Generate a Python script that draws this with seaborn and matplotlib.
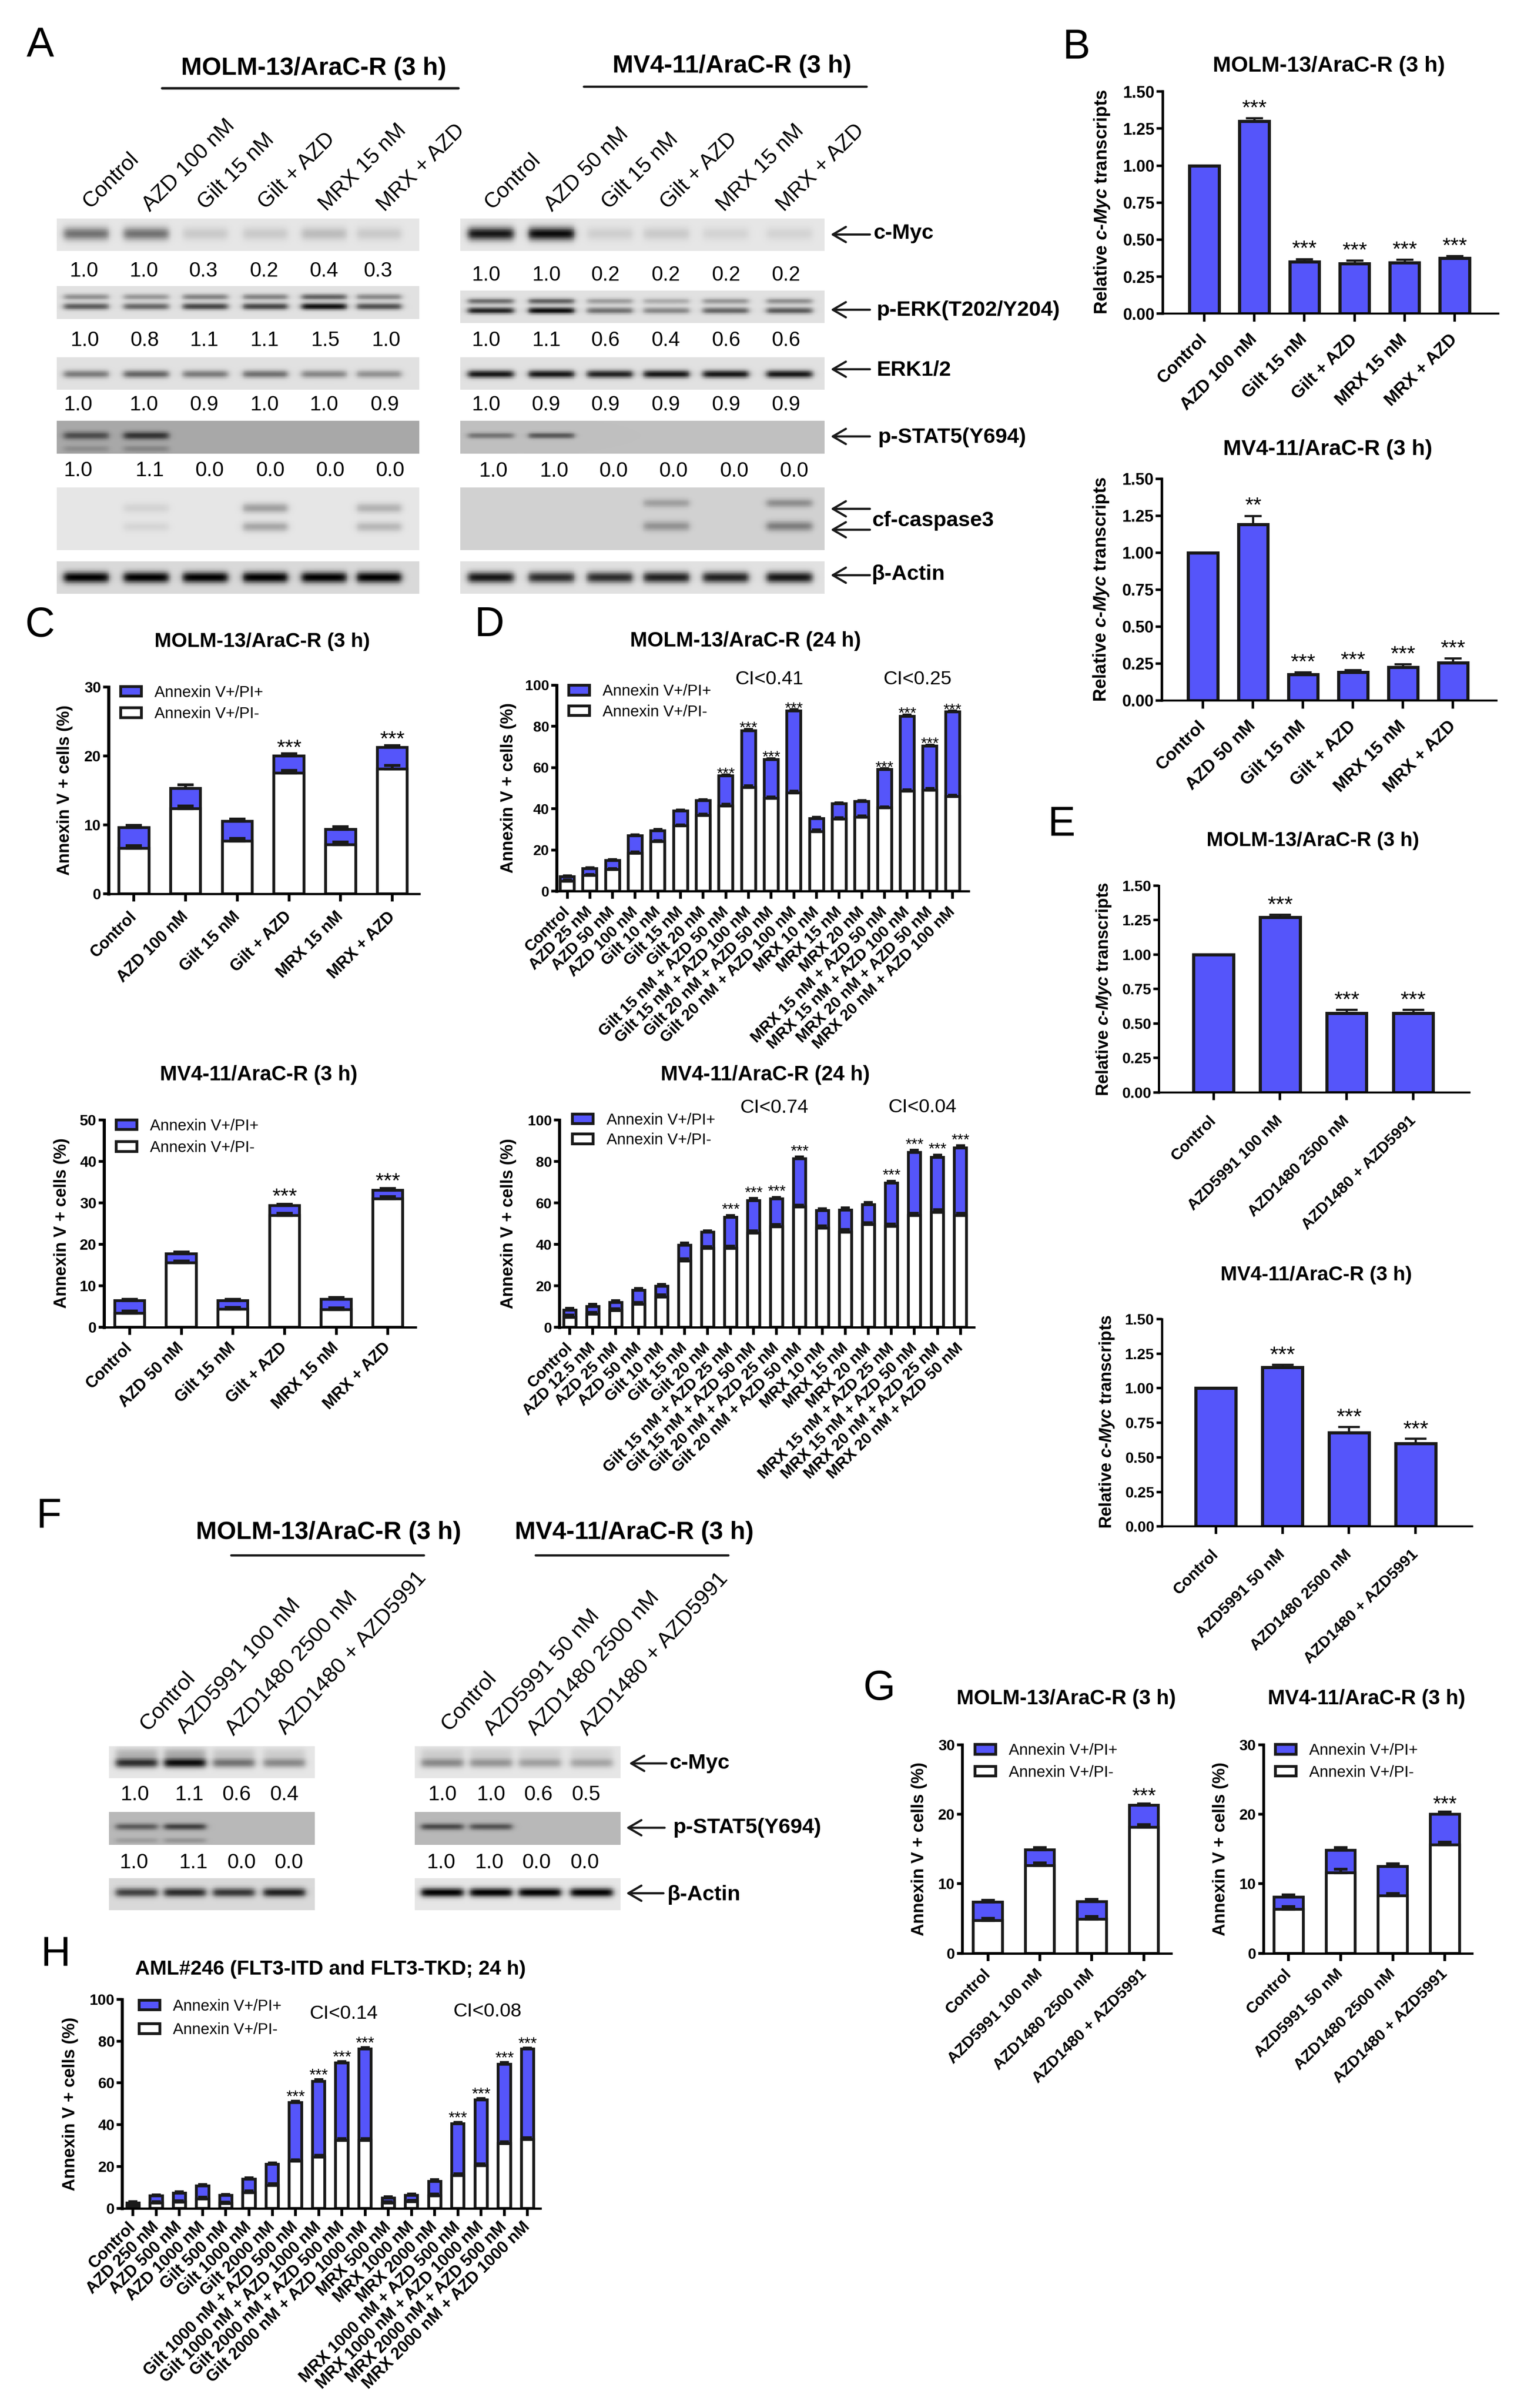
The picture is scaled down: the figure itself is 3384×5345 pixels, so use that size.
import numpy as np
import pandas as pd
import seaborn as sns
import matplotlib
matplotlib.use('Agg')
import matplotlib.pyplot as plt
from matplotlib.patches import Patch

# ---------------------------------------------------------------- data
COND_M13 = ['Control', 'AZD 100 nM', 'Gilt 15 nM', 'Gilt + AZD', 'MRX 15 nM', 'MRX + AZD']
COND_MV4 = ['Control', 'AZD 50 nM', 'Gilt 15 nM', 'Gilt + AZD', 'MRX 15 nM', 'MRX + AZD']
B1_VAL = [1.0, 1.30, 0.35, 0.34, 0.345, 0.375]
B1_ERR = [0, 0.02, 0.02, 0.02, 0.02, 0.015]
B1_STARS = ['', '***', '***', '***', '***', '***']
B2_VAL = [1.0, 1.19, 0.175, 0.19, 0.225, 0.255]
B2_ERR = [0, 0.06, 0.015, 0.015, 0.02, 0.03]
B2_STARS = ['', '**', '***', '***', '***', '***']

C1_TOTAL = [9.6, 15.3, 10.5, 20.0, 9.3, 21.2]
C1_LOWER = [6.6, 12.3, 7.6, 17.5, 7.1, 18.1]
C1_ERR_T = [0.3, 0.5, 0.3, 0.3, 0.4, 0.3]
C1_ERR_L = [0.4, 0.4, 0.4, 0.4, 0.4, 0.5]
C1_STARS = ['', '', '', '***', '', '***']
C2_TOTAL = [6.4, 17.7, 6.4, 29.3, 6.7, 33.0]
C2_LOWER = [3.4, 15.5, 4.3, 27.0, 4.2, 31.0]
C2_ERR_T = [0.3, 0.4, 0.3, 0.4, 0.5, 0.5]
C2_ERR_L = [0.5, 0.5, 0.5, 0.5, 0.5, 0.5]
C2_STARS = ['', '', '', '***', '', '***']

D1_COND = ['Control', 'AZD 25 nM', 'AZD 50 nM', 'AZD 100 nM', 'Gilt 10 nM', 'Gilt 15 nM', 'Gilt 20 nM',
           'Gilt 15 nM + AZD 50 nM', 'Gilt 15 nM + AZD 100 nM', 'Gilt 20 nM + AZD 50 nM', 'Gilt 20 nM + AZD 100 nM',
           'MRX 10 nM', 'MRX 15 nM', 'MRX 20 nM',
           'MRX 15 nM + AZD 50 nM', 'MRX 15 nM + AZD 100 nM', 'MRX 20 nM + AZD 50 nM', 'MRX 20 nM + AZD 100 nM']
D1_TOTAL = [7, 10.9, 15, 27, 29.3, 39, 44, 56, 78, 64, 87.5, 35.3, 42.4, 43.5, 59, 85, 70.4, 87]
D1_LOWER = [4.9, 7.7, 10.5, 18.5, 24, 31.7, 36.7, 41.4, 50.4, 45, 47.8, 29, 35, 36, 40.4, 48.5, 49, 46]
D1_ERR_T = [0.4, 0.5, 0.4, 0.4, 0.6, 0.5, 0.5, 0.4, 0.6, 0.4, 0.6, 0.5, 0.4, 0.4, 0.5, 0.6, 0.6, 0.5]
D1_ERR_L = [0.5, 0.5, 0.5, 0.5, 0.6, 0.5, 0.8, 0.8, 0.8, 0.8, 0.8, 0.8, 0.6, 0.6, 0.6, 0.8, 0.8, 0.6]
D2_COND = ['Control', 'AZD 12.5 nM', 'AZD 25 nM', 'AZD 50 nM', 'Gilt 10 nM', 'Gilt 15 nM', 'Gilt 20 nM',
           'Gilt 15 nM + AZD 25 nM', 'Gilt 15 nM + AZD 50 nM', 'Gilt 20 nM + AZD 25 nM', 'Gilt 20 nM + AZD 50 nM',
           'MRX 10 nM', 'MRX 15 nM', 'MRX 20 nM',
           'MRX 15 nM + AZD 25 nM', 'MRX 15 nM + AZD 50 nM', 'MRX 20 nM + AZD 25 nM', 'MRX 20 nM + AZD 50 nM']
D2_TOTAL = [8.3, 10.1, 11.9, 17.8, 19.7, 39.7, 45.8, 53, 61.2, 61.9, 81.3, 56.3, 56.6, 59.2, 69.5, 84.3, 82, 86.5]
D2_LOWER = [4.9, 6.3, 8, 11, 14.5, 32, 38, 38, 45.5, 48.5, 58, 47.9, 46, 49.5, 48.7, 54, 55.5, 54]
D2_ERR_T = [0.9, 0.9, 0.9, 1.0, 1.0, 1.0, 0.8, 1.0, 1.0, 0.8, 0.9, 1.0, 1.0, 1.0, 1.0, 1.1, 1.2, 1.1]
D2_ERR_L = [1.0, 1.0, 1.0, 1.0, 1.2, 1.0, 1.0, 1.2, 1.0, 1.2, 1.0, 1.0, 1.2, 1.0, 1.1, 1.0, 1.2, 1.0]
COMBO_STARS = ['', '', '', '', '', '', '', '***', '***', '***', '***', '', '', '', '***', '***', '***', '***']

E1_COND = ['Control', 'AZD5991 100 nM', 'AZD1480 2500 nM', 'AZD1480 + AZD5991']
E2_COND = ['Control', 'AZD5991 50 nM', 'AZD1480 2500 nM', 'AZD1480 + AZD5991']
E1_VAL = [1.0, 1.27, 0.575, 0.575]
E1_ERR = [0, 0.02, 0.025, 0.025]
E2_VAL = [1.0, 1.15, 0.68, 0.60]
E2_ERR = [0, 0.02, 0.04, 0.035]
E_STARS = ['', '***', '***', '***']

G1_TOTAL = [7.35, 14.9, 7.4, 21.3]
G1_LOWER = [4.7, 12.6, 4.9, 18.1]
G1_ERR_T = [0.25, 0.3, 0.35, 0.2]
G1_ERR_L = [0.3, 0.4, 0.4, 0.4]
G2_TOTAL = [8.1, 14.8, 12.5, 20.0]
G2_LOWER = [6.3, 11.6, 8.3, 15.6]
G2_ERR_T = [0.3, 0.4, 0.4, 0.3]
G2_ERR_L = [0.4, 0.5, 0.3, 0.4]
G_STARS = ['', '', '', '***']

H_COND = ['Control', 'AZD 250 nM', 'AZD 500 nM', 'AZD 1000 nM', 'Gilt 500 nM', 'Gilt 1000 nM', 'Gilt 2000 nM',
          'Gilt 1000 nM + AZD 500 nM', 'Gilt 1000 nM + AZD 1000 nM', 'Gilt 2000 nM + AZD 500 nM', 'Gilt 2000 nM + AZD 1000 nM',
          'MRX 500 nM', 'MRX 1000 nM', 'MRX 2000 nM',
          'MRX 1000 nM + AZD 500 nM', 'MRX 1000 nM + AZD 1000 nM', 'MRX 2000 nM + AZD 500 nM', 'MRX 2000 nM + AZD 1000 nM']
H_TOTAL = [2.6, 5.9, 7.3, 10.8, 6.2, 14, 21.1, 50.7, 60.8, 69.7, 76.3, 5, 6.2, 13, 40.4, 52, 69, 76.2]
H_LOWER = [1.2, 2.5, 3, 4.5, 2.3, 7.5, 11, 22.5, 24.5, 32.5, 32.5, 2.5, 3.1, 6, 15.7, 20.5, 31, 33]
H_ERR_T = [0.5, 0.6, 0.6, 0.6, 0.5, 0.6, 0.6, 0.6, 0.8, 0.5, 0.6, 0.5, 0.6, 0.7, 0.7, 0.5, 0.8, 0.6]
H_ERR_L = [0.6, 0.7, 0.7, 0.8, 0.6, 0.8, 0.8, 0.8, 0.8, 0.9, 0.8, 0.6, 0.7, 0.8, 0.8, 0.8, 0.8, 0.9]

# western-blot lane darkness (0 = no band, 1 = black) and densitometry labels
A_L_MYC, A_R_MYC = [.5, .5, .12, .12, .18, .12], [.9, .95, .1, .12, .08, .08]
A_L_PERK, A_R_PERK = [.6, .55, .7, .7, .95, .65], [.85, .95, .5, .4, .55, .6]
A_L_ERK, A_R_ERK = [.45, .55, .45, .5, .4, .35], [.9, .9, .85, .9, .9, .9]
A_L_STAT, A_R_STAT = [.55, .7, 0, 0, 0, 0], [.4, .55, 0, 0, 0, 0]
A_L_CASP, A_R_CASP = [0, .08, 0, .3, 0, .22], [0, 0, 0, .3, 0, .4]
A_L_ACT, A_R_ACT = [1, 1, 1, 1, 1, 1], [.9, .8, .8, .85, .85, .9]
F_L_MYC, F_R_MYC = [.8, .95, .5, .4], [.4, .35, .3, .28]
F_L_STAT, F_R_STAT = [.5, .65, 0, 0], [.6, .55, 0, 0]
F_L_ACT, F_R_ACT = [.7, .8, .75, .85], [1, 1, 1, 1]
A_L_NUM = [['1.0', '1.0', '0.3', '0.2', '0.4', '0.3'], ['1.0', '0.8', '1.1', '1.1', '1.5', '1.0'],
           ['1.0', '1.0', '0.9', '1.0', '1.0', '0.9'], ['1.0', '1.1', '0.0', '0.0', '0.0', '0.0']]
A_R_NUM = [['1.0', '1.0', '0.2', '0.2', '0.2', '0.2'], ['1.0', '1.1', '0.6', '0.4', '0.6', '0.6'],
           ['1.0', '0.9', '0.9', '0.9', '0.9', '0.9'], ['1.0', '1.0', '0.0', '0.0', '0.0', '0.0']]
F_L_NUM = [['1.0', '1.1', '0.6', '0.4'], ['1.0', '1.1', '0.0', '0.0']]
F_R_NUM = [['1.0', '1.0', '0.6', '0.5'], ['1.0', '1.0', '0.0', '0.0']]

T_M13_3 = 'MOLM-13/AraC-R (3 h)'
T_MV4_3 = 'MV4-11/AraC-R (3 h)'
LEG = ['Annexin V+/PI+', 'Annexin V+/PI-']
Y_AX = 'Annexin V + cells (%)'

# ---------------------------------------------------------------- style
W, H = 3384, 5345
BLUE = '#5555FA'
SANS = 'Liberation Sans'
sns.set_theme(style='ticks', rc={'axes.edgecolor': 'black', 'xtick.color': 'black', 'ytick.color': 'black',
                                 'text.color': 'black', 'axes.labelcolor': 'black'})
plt.rcParams['font.family'] = [SANS, 'DejaVu Sans']
plt.rcParams['mathtext.fontset'] = 'custom'
plt.rcParams['mathtext.bfit'] = SANS + ':italic:bold'
MYC_LABEL = r'Relative $\mathbfit{c}$-$\mathbfit{Myc}$ transcripts'

fig = plt.figure(figsize=(W / 100, H / 100), dpi=100, facecolor='white')


class Map:

    def __init__(self, ox, oy, w, h, side=1568):
        self.ox, self.oy, self.fx, self.fy = ox, oy, side / w, side / h

    def x(self, v):
        return self.ox + v / self.fx

    def y(self, v):
        return self.oy + v / self.fy

    def xy(self, p):
        return (self.x(p[0]), self.y(p[1]))

    def rect(self, a, b, c, d):
        return (self.x(a), self.y(b), self.x(c), self.y(d))


Z1 = Map(0, 0, 2400, 1400)
Z2 = Map(1000, 1350, 1300, 1000)
Z3 = Map(1000, 2330, 1300, 1000)
Z4 = Map(100, 4300, 1250, 1045)
Z5 = Map(0, 3300, 2000, 1000)
Z6 = Map(2300, 0, 1084, 1750)
Z7 = Map(2300, 1750, 1084, 1900)
Z8 = Map(0, 1330, 1050, 1000)
Z9 = Map(0, 2330, 1050, 900)
Z10 = Map(1880, 3680, 1504, 1000)


def add_ax(x0, y0, x1, y1, **kw):
    return fig.add_axes([x0 / W, 1 - y1 / H, (x1 - x0) / W, (y1 - y0) / H], **kw)


ov = add_ax(0, 0, W, H, zorder=20)
ov.set_xlim(0, W)
ov.set_ylim(H, 0)
ov.axis('off')
ov.patch.set_alpha(0)


def frame(ax, rect, c0, cn, n, ymax, yticks, ytl, labels, title, title_xy, ylabel, ylabel_xy, s):
    x0, y0, x1, y1 = rect
    step = (cn - c0) / (n - 1)
    ax.set_xlim((x0 - c0) / step, n - 1 + (x1 - cn) / step)
    ax.set_ylim(0, ymax)
    sns.despine(ax=ax)
    ax.spines['left'].set_linewidth(s['sp'])
    ax.spines['bottom'].set_linewidth(s['spb'])
    ax.set_yticks(yticks)
    ax.set_yticklabels(ytl, fontsize=s['yfs'], fontweight='bold')
    ax.set_xticks(range(n))
    ax.set_xticklabels(labels, rotation=45, ha='right', va='center', rotation_mode='anchor',
                       fontsize=s['xfs'], fontweight='bold')
    ax.tick_params(axis='y', length=s['tl'], width=s['tw'], pad=3)
    ax.tick_params(axis='x', length=s['tl'] + 3, width=s['tw'], pad=s['xpad'])
    ax.set_xlabel('')
    ax.set_ylabel(ylabel, fontsize=s['lfs'], fontweight='bold', va='center')
    ax.yaxis.set_label_coords((ylabel_xy[0] - x0) / (x1 - x0), (y1 - ylabel_xy[1]) / (y1 - y0))
    ax.set_title(title, fontsize=s['tfs'], fontweight='bold', va='center',
                 x=(title_xy[0] - x0) / (x1 - x0), y=(y1 - title_xy[1] - 10) / (y1 - y0))


def add_stars(ax, tops, stars, s):
    em = s['sfs'] * 100 / 72
    off = (s['so'] - .58 * em) * 72 / 100
    for i, (t, st) in enumerate(zip(tops, stars)):
        if st:
            ax.annotate(st, (i, t), xytext=(0, off), textcoords='offset points', ha='center', va='baseline',
                        fontsize=s['sfs'], annotation_clip=False)


def single(z, box, c0, cn, labels, vals, errs, stars, title, title_z, ylabel_z, s):
    rect = z.rect(*box)
    ax = add_ax(*rect)
    n = len(labels)
    df = pd.DataFrame({'cond': labels, 'value': vals})
    sns.barplot(data=df, x='cond', y='value', order=labels, color=BLUE, saturation=1, edgecolor='k',
                linewidth=s['lw'], width=s['bw'], errorbar=None, ax=ax)
    ax.errorbar(range(n), vals, yerr=[[0] * n, errs], fmt='none', ecolor='k', elinewidth=s['lw'] * .7,
                capsize=s['cap'], capthick=s['lw'] * .7, clip_on=False)
    ticks = [0, .25, .5, .75, 1, 1.25, 1.5]
    frame(ax, rect, z.x(c0), z.x(cn), n, 1.5, ticks, ['%.2f' % t for t in ticks], labels, title, z.xy(title_z),
          MYC_LABEL, z.xy(ylabel_z), s)
    add_stars(ax, [v + e for v, e in zip(vals, errs)], stars, s)


def stacked(z, box, c0, cn, labels, total, lower, et, el, stars, ymax, yticks, title, title_z, ylabel_z, leg, s):
    rect = z.rect(*box)
    ax = add_ax(*rect)
    n = len(labels)
    df = pd.DataFrame({'cond': labels, 'total': total, 'lower': lower})
    sns.barplot(data=df, x='cond', y='total', order=labels, color=BLUE, saturation=1, edgecolor='k',
                linewidth=s['lw'], width=s['bw'], errorbar=None, ax=ax)
    sns.barplot(data=df, x='cond', y='lower', order=labels, color='white', saturation=1, edgecolor='k',
                linewidth=s['lw'], width=s['bw'], errorbar=None, ax=ax)
    for v, e in ((total, et), (lower, el)):
        ax.errorbar(range(n), v, yerr=[[0] * n, e], fmt='none', ecolor='k', elinewidth=s['lw'],
                    capsize=s['cap'], capthick=s['lw'], clip_on=False, zorder=5)
    frame(ax, rect, z.x(c0), z.x(cn), n, ymax, yticks, [str(t) for t in yticks], labels, title, z.xy(title_z),
          Y_AX, z.xy(ylabel_z), s)
    add_stars(ax, [v + e for v, e in zip(total, et)], stars, s)
    handles = [Patch(facecolor=BLUE, edgecolor='k', linewidth=s['lw'], label=LEG[0]),
               Patch(facecolor='white', edgecolor='k', linewidth=s['lw'], label=LEG[1])]
    fs = 25
    F = fs * 100 / 72
    lx, ly, pitch = leg
    ax.legend(handles=handles, loc='upper left', bbox_to_anchor=(lx / W, 1 - (ly - .48 * F) / H),
              bbox_transform=fig.transFigure, frameon=False, fontsize=fs, borderpad=0, borderaxespad=0,
              handlelength=46 / F, handleheight=20 / F, handletextpad=.85, labelspacing=(pitch - .96 * F) / F)
    return ax


def blot(rect, bg, lanes, dark, bands, half=.38):
    x0, y0, x1, y1 = rect
    ax = add_ax(*rect)
    rows, cols = 60, 280
    yy, xx = np.mgrid[0:rows, 0:cols]
    yf = (yy + .5) / rows
    xp = x0 + (xx + .5) / cols * (x1 - x0)
    step = np.mean(np.diff(lanes))
    shade = np.zeros((rows, cols))
    for c, d in zip(lanes, dark):
        win = .5 * (np.tanh((xp - c + half * step) / 8) - np.tanh((xp - c - half * step) / 8))
        for (pos, rel, sig) in bands:
            shade += d * rel * win * np.exp(-((yf - pos) / sig) ** 2)
    img = bg * (1 - np.clip(shade, 0, 1))
    sns.heatmap(img, ax=ax, cmap='gray', vmin=0, vmax=1, cbar=False, xticklabels=False, yticklabels=False,
                rasterized=True)
    ax.set_xlabel('')
    ax.set_ylabel('')
    ax.tick_params(length=0)


def rotlabels(items, rot, fs):
    for (t, x, y) in items:
        ov.text(x, y, t, rotation=rot, rotation_mode='anchor', ha='left', va='center', fontsize=fs)


def arrow(xtail, xhead, y):
    ov.annotate('', xy=(xhead, y), xytext=(xtail, y),
                arrowprops=dict(arrowstyle='->,head_length=.55,head_width=.32', lw=3.5, color='k',
                                mutation_scale=38, shrinkA=0, shrinkB=0))


def sideline(t, x, y, fs=34):
    ov.text(x, y, t, ha='left', va='center', fontsize=fs, fontweight='bold')


def num_rows(rows, xs, ys, fs=33):
    for row, rx, y in zip(rows, xs, ys):
        for t, x in zip(row, rx):
            ov.text(x, y, t, ha='center', va='center', fontsize=fs)


# ---------------------------------------------------------------- panel A
A_LL = [Z1.x(v) for v in (125, 212, 298, 385, 470, 550)]
A_RL = [Z1.x(v) for v in (712, 800, 885, 967, 1053, 1145)]
ROWS_L = [(543, 624), (711, 793), (888, 969), (1046, 1128), (1212, 1367), (1395, 1476)]
ROWS_R = [(543, 624), (722, 803), (888, 969), (1046, 1128), (1212, 1367), (1395, 1476)]
BND_MYC = [(.47, 1, .2)]
BND_ERK2 = [(.33, .6, .09), (.62, 1, .1)]
BND_ERK = [(.52, 1, .12)]
BND_STAT_L = [(.45, 1, .12), (.85, .3, .1)]
BND_STAT_R = [(.45, 1, .09)]
BND_CASP_L = [(.33, 1, .08), (.63, .9, .08)]
BND_CASP_R = [(.25, .8, .07), (.62, 1, .08)]
BND_ACT = [(.5, 1, .17)]
for (x0, x1, lanes, rows, d, bgs, bnd) in (
        (82, 608, A_LL, ROWS_L, [A_L_MYC, A_L_PERK, A_L_ERK, A_L_STAT, A_L_CASP, A_L_ACT], [.9, .88, .88, .66, .9, .85],
         [BND_MYC, BND_ERK2, BND_ERK, BND_STAT_L, BND_CASP_L, BND_ACT]),
        (668, 1196, A_RL, ROWS_R, [A_R_MYC, A_R_PERK, A_R_ERK, A_R_STAT, A_R_CASP, A_R_ACT], [.9, .88, .88, .75, .82, .88],
         [BND_MYC, BND_ERK2, BND_ERK, BND_STAT_R, BND_CASP_R, BND_ACT])):
    for (y0, y1), dk, bg, b in zip(rows, d, bgs, bnd):
        blot(Z1.rect(x0, y0, x1, y1), bg, lanes, dk, b)
for (t, p) in ((T_M13_3, (455, 170)), (T_MV4_3, (1062, 165))):
    ov.text(*Z1.xy(p), t, ha='center', va='center', fontsize=40, fontweight='bold')
ov.plot([Z1.x(235), Z1.x(665)], [Z1.y(219)] * 2, color='k', lw=4)
ov.plot([Z1.x(847), Z1.x(1257)], [Z1.y(215)] * 2, color='k', lw=3.5)
rotlabels([(t, Z1.x(x), Z1.y(y)) for t, x, y in zip(COND_M13, [125, 212, 292, 380, 468, 552], [510, 518, 513, 512, 516, 518])], 45, 34.5)
rotlabels([(t, Z1.x(x), Z1.y(y)) for t, x, y in zip(COND_MV4, [708, 795, 878, 963, 1045, 1132], [512, 518, 512, 512, 518, 518])], 45, 34.5)
num_rows(A_L_NUM,
         [[Z1.x(v) for v in r] for r in ([122, 209, 295, 383, 470, 548], [123, 210, 296, 384, 472, 560],
                                         [113, 209, 296, 384, 470, 558], [113, 217, 304, 392, 479, 566])],
         [Z1.y(v) for v in (674, 847, 1007, 1170)])
num_rows(A_R_NUM,
         [[Z1.x(v) for v in r] for r in ([705, 793, 878, 966, 1053, 1140], [705, 793, 878, 966, 1053, 1140],
                                         [705, 792, 878, 966, 1053, 1140], [716, 804, 890, 977, 1065, 1152])],
         [Z1.y(v) for v in (684, 847, 1007, 1172)])
for t, x, y in (('c-Myc', 1267, 580), ('p-ERK(T202/Y204)', 1272, 772), ('ERK1/2', 1272, 920),
                ('p-STAT5(Y694)', 1274, 1087), ('cf-caspase3', 1265, 1295), ('β-Actin', 1265, 1428)):
    sideline(t, Z1.x(x), Z1.y(y))
for y in (583, 770, 918, 1085, 1265, 1317, 1430):
    arrow(Z1.x(1262), Z1.x(1205), Z1.y(y))

# ---------------------------------------------------------------- panel B
SB = dict(lw=5, bw=.59, cap=14, sp=4, spb=3.2, tl=10, tw=4, yfs=26, xfs=28, xpad=24, lfs=29, tfs=35, sfs=34, so=36)
single(Z6, (408, 182, 1485, 624), 541, 1345, COND_M13, B1_VAL, B1_ERR, B1_STARS, T_M13_3, (942, 130), (213, 402), SB)
single(Z6, (405, 952, 1480, 1393), 537, 1340, COND_MV4, B2_VAL, B2_ERR, B2_STARS, T_MV4_3, (938, 892), (210, 1172), SB)

# ---------------------------------------------------------------- panel C
SC = dict(lw=4.5, bw=.58, cap=13, sp=5, spb=3.6, tl=9, tw=4.5, yfs=24, xfs=26, xpad=21, lfs=27, tfs=32.5, sfs=34, so=27)
stacked(Z8, (360, 305, 1390, 1025), 444, 1301, COND_M13, C1_TOTAL, C1_LOWER, C1_ERR_T, C1_ERR_L, C1_STARS, 30,
        [0, 10, 20, 30], T_M13_3, (870, 145), (215, 665), (Z8.x(400), Z8.y(325), 48), SC)
stacked(Z9, (345, 272, 1378, 1073), 430, 1286, COND_MV4, C2_TOTAL, C2_LOWER, C2_ERR_T, C2_ERR_L, C2_STARS, 50,
        [0, 10, 20, 30, 40, 50], T_MV4_3, (857, 95), (205, 670), (Z9.x(385), Z9.y(295), 49),
        dict(SC, tfs=33, xpad=17, so=30))

# ---------------------------------------------------------------- panel D
SD = dict(lw=4.5, bw=.62, cap=7.5, sp=4.8, spb=3.6, tl=9, tw=4.5, yfs=23, xfs=25.5, xpad=17, lfs=27, tfs=33, sfs=25, so=13)
stacked(Z2, (285, 268, 1388, 985), 313, 1345, D1_COND, D1_TOTAL, D1_LOWER, D1_ERR_T, D1_ERR_L, COMBO_STARS, 100,
        [0, 20, 40, 60, 80, 100], 'MOLM-13/AraC-R (24 h)', (790, 112), (155, 625), (Z2.x(317), Z2.y(290), 46), SD)
stacked(Z3, (292, 245, 1403, 966), 320, 1366, D2_COND, D2_TOTAL, D2_LOWER, D2_ERR_T, D2_ERR_L, COMBO_STARS, 100,
        [0, 20, 40, 60, 80, 100], 'MV4-11/AraC-R (24 h)', (843, 85), (155, 605), (Z3.x(327), Z3.y(245), 45),
        dict(SD, bw=.53, so=23))
for z, t, p in ((Z2, 'CI<0.41', (855, 248)), (Z2, 'CI<0.25', (1252, 248)), (Z3, 'CI<0.74', (868, 203)),
                (Z3, 'CI<0.04', (1265, 200)), (Z4, 'CI<0.14', (832, 255)), (Z4, 'CI<0.08', (1233, 248))):
    ov.text(*z.xy(p), t, ha='center', va='center', fontsize=31)

# ---------------------------------------------------------------- panel E
SE = dict(lw=5, bw=.6, cap=17, sp=3.6, spb=3.2, tl=9, tw=4, yfs=24, xfs=25.5, xpad=29, lfs=27.5, tfs=32, sfs=35, so=36)
single(Z7, (395, 178, 1393, 557), 571, 1212, E1_COND, E1_VAL, E1_ERR, E_STARS, T_M13_3, (890, 95), (218, 368), SE)
single(Z7, (405, 972, 1402, 1352), 578, 1220, E2_COND, E2_VAL, E2_ERR, E_STARS, T_MV4_3, (900, 890), (228, 1160), SE)

# ---------------------------------------------------------------- panel F
LL = [Z5.x(v) for v in (238, 322, 407, 495)]
RL = [Z5.x(v) for v in (770, 855, 940, 1030)]
FB = [(903, 1015, [(.52, 1, .15), (.22, .25, .16)], [(.52, 1, .15), (.22, .25, .16)]),
      (1132, 1246, [(.45, 1, .1), (.87, .3, .08)], [(.45, 1, .1)]),
      (1362, 1474, [(.45, 1, .14)], [(.45, 1, .14)])]
for (y0, y1, bL, bR), dl, dr, bl, br in zip(FB, [F_L_MYC, F_L_STAT, F_L_ACT], [F_R_MYC, F_R_STAT, F_R_ACT],
                                            [.9, .72, .85], [.9, .72, .9]):
    blot(Z5.rect(190, y0, 548, y1), bl, LL, dl, bL, half=.42)
    blot(Z5.rect(722, y0, 1080, y1), br, RL, dr, bR, half=.42)
for (t, p) in ((T_M13_3, (572, 160)), (T_MV4_3, (1104, 160))):
    ov.text(*Z5.xy(p), t, ha='center', va='center', fontsize=40, fontweight='bold')
ov.plot([Z5.x(402), Z5.x(738)], [Z5.y(238)] * 2, color='k', lw=3.5)
ov.plot([Z5.x(932), Z5.x(1268)], [Z5.y(238)] * 2, color='k', lw=3.5)
rotlabels([(t, Z5.x(x), Z5.y(y)) for t, x, y in zip(E1_COND, [250, 315, 400, 490], [840, 850, 855, 852])], 48, 35.5)
rotlabels([(t, Z5.x(x), Z5.y(y)) for t, x, y in zip(E2_COND, [775, 850, 925, 1015], [840, 855, 855, 855])], 48, 35.5)
num_rows(F_L_NUM, [[Z5.x(v) for v in r] for r in ([235, 330, 412, 495], [233, 337, 420, 503])],
         [Z5.y(1072), Z5.y(1310)])
num_rows(F_R_NUM, [[Z5.x(v) for v in r] for r in ([770, 855, 937, 1020], [768, 852, 934, 1018])],
         [Z5.y(1072), Z5.y(1310)])
sideline('c-Myc', Z5.x(1165), Z5.y(963))
sideline('p-STAT5(Y694)', Z5.x(1172), Z5.y(1187))
sideline('β-Actin', Z5.x(1162), Z5.y(1420))
arrow(Z5.x(1160), Z5.x(1095), Z5.y(963))
arrow(Z5.x(1157), Z5.x(1090), Z5.y(1187))
arrow(Z5.x(1155), Z5.x(1090), Z5.y(1415))

# ---------------------------------------------------------------- panel G
SG = dict(lw=4.5, bw=.56, cap=11, sp=4.5, spb=3.6, tl=9, tw=4.5, yfs=24, xfs=25.5, xpad=17, lfs=27.5, tfs=33, sfs=33, so=30)
stacked(Z10, (268, 302, 752, 1028), 327, 688, E1_COND, G1_TOTAL, G1_LOWER, G1_ERR_T, G1_ERR_L, G_STARS, 30,
        [0, 10, 20, 30], T_M13_3, (508, 140), (168, 665), (Z10.x(297), Z10.y(323), 49), SG)
stacked(Z10, (965, 302, 1448, 1028), 1023, 1385, E2_COND, G2_TOTAL, G2_LOWER, G2_ERR_T, G2_ERR_L, G_STARS, 30,
        [0, 10, 20, 30], T_MV4_3, (1203, 140), (865, 665), (Z10.x(992), Z10.y(323), 49), SG)

# ---------------------------------------------------------------- panel H
SH = dict(lw=4.5, bw=.53, cap=7.5, sp=4.8, spb=3.6, tl=9, tw=4.5, yfs=24, xfs=26.5, xpad=14, lfs=27.5, tfs=32.5, sfs=26, so=19)
stacked(Z4, (215, 207, 1380, 903), 245, 1344, H_COND, H_TOTAL, H_LOWER, H_ERR_T, H_ERR_L, COMBO_STARS, 100,
        [0, 20, 40, 60, 80, 100], 'AML#246 (FLT3-ITD and FLT3-TKD; 24 h)', (795, 105), (70, 555),
        (Z4.x(262), Z4.y(230), 53), SH)

# ---------------------------------------------------------------- panel letters
for t, x, y in (('A', 89, 103), ('B', 2390, 106), ('C', 88, 1389), ('D', 1087, 1388),
                ('E', 2357, 1831), ('F', 108, 3367), ('G', 1952, 3749), ('H', 124, 4340)):
    ov.text(x, y, t, ha='center', va='center', fontsize=66)

fig.savefig('out.png', dpi=100, facecolor='white')
